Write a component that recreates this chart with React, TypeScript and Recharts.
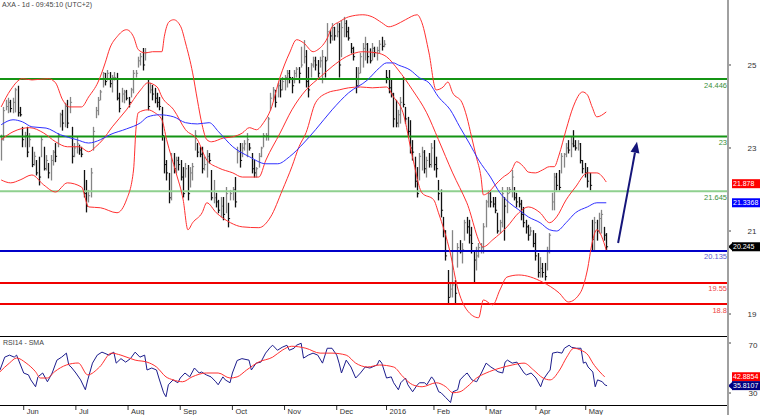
import { Bar, ComposedChart, Line, ReferenceLine, XAxis, YAxis } from 'recharts';

const FONT = '"Liberation Sans", Arial, sans-serif';

// Daily bars: [high, low, close]
const bars: number[][] = [
  [23.32, 22.71, 23.2], [23.99, 23.19, 23.9], [24.16, 23.92, 24.0], [24.21, 23.85, 24.1], [24.16, 23.87, 23.95],
  [24.21, 23.85, 24.1], [24.45, 23.87, 24.4], [24.5, 23.77, 23.85], [23.99, 23.77, 23.8], [23.51, 23.03, 23.2],
  [23.39, 23.03, 23.3], [23.51, 22.79, 22.9], [23.36, 23.03, 23.2], [23.03, 22.55, 22.6], [22.91, 22.59, 22.8],
  [22.71, 22.35, 22.4], [22.79, 22.11, 22.3], [23.27, 22.79, 23.2], [23.03, 22.47, 22.5], [22.83, 22.47, 22.7],
  [22.64, 22.28, 22.4], [22.83, 22.23, 22.7], [22.95, 22.59, 22.9], [23.12, 22.67, 22.8], [23.36, 23.03, 23.3],
  [23.85, 23.51, 23.8], [23.92, 23.43, 23.6], [24.09, 23.51, 24.0], [24.16, 23.49, 23.6], [24.23, 23.85, 24.1],
  [23.51, 22.64, 22.8], [23.12, 22.79, 23.0], [23.27, 22.88, 23.1], [23.08, 22.85, 22.95], [23.03, 22.79, 22.85],
  [22.47, 21.82, 21.9], [22.23, 21.46, 21.6], [21.99, 21.7, 21.85], [22.52, 21.82, 22.4], [23.51, 22.95, 23.4],
  [23.99, 23.73, 23.9], [24.23, 23.8, 24.15], [24.4, 24.16, 24.35], [24.83, 24.47, 24.8], [24.81, 24.52, 24.6],
  [24.88, 24.64, 24.8], [24.83, 24.47, 24.55], [24.76, 24.35, 24.7], [24.83, 24.64, 24.7], [24.81, 24.16, 24.2],
  [24.33, 23.87, 23.95], [24.45, 24.11, 24.3], [24.4, 24.09, 24.35], [24.4, 24.16, 24.2], [24.23, 23.99, 24.1],
  [24.45, 24.23, 24.4], [24.88, 24.33, 24.8], [24.88, 24.71, 24.8], [25.2, 24.95, 25.1], [25.29, 25.0, 25.2],
  [25.41, 24.88, 25.0], [25.41, 25.12, 25.3], [24.64, 23.92, 24.0], [24.57, 24.33, 24.4], [24.52, 24.16, 24.3],
  [24.45, 24.09, 24.2], [24.33, 23.99, 24.1], [24.23, 23.92, 24.0], [23.99, 23.19, 23.3], [23.27, 22.4, 22.6],
  [22.71, 22.23, 22.4], [22.4, 21.68, 21.8], [22.88, 21.75, 22.7], [22.88, 22.4, 22.5], [22.79, 22.4, 22.7],
  [22.79, 22.47, 22.6], [22.71, 22.23, 22.3], [22.54, 21.82, 21.9], [22.64, 22.3, 22.5], [22.59, 21.75, 21.9],
  [22.54, 22.06, 22.4], [22.64, 22.23, 22.55], [23.43, 22.95, 23.3], [23.12, 22.79, 22.9], [23.03, 22.79, 22.85],
  [23.03, 22.4, 22.5], [22.79, 22.47, 22.6], [22.95, 22.3, 22.8], [22.88, 22.64, 22.7], [22.47, 21.75, 21.8],
  [22.23, 21.68, 21.8], [21.92, 21.58, 21.7], [21.75, 21.44, 21.5], [21.82, 21.34, 21.6], [21.82, 21.27, 21.4],
  [22.06, 21.44, 21.9], [21.68, 21.1, 21.3], [21.99, 21.75, 21.9], [22.06, 21.75, 22.0], [22.3, 21.58, 21.7],
  [23.03, 22.64, 22.9], [23.12, 22.54, 22.7], [23.12, 22.79, 23.0], [23.19, 22.95, 23.1], [23.36, 22.79, 23.2],
  [23.12, 22.95, 23.0], [22.88, 22.4, 22.5], [22.71, 22.3, 22.4], [22.54, 22.3, 22.5], [22.88, 22.54, 22.8],
  [23.03, 22.79, 23.0], [23.36, 23.03, 23.3], [23.36, 23.19, 23.3], [23.75, 23.19, 23.7], [24.33, 23.92, 24.2],
  [24.47, 24.16, 24.4], [24.4, 23.99, 24.1], [24.57, 24.23, 24.5], [24.64, 24.23, 24.4], [24.71, 24.4, 24.6],
  [24.76, 24.4, 24.7], [24.88, 24.47, 24.8], [24.88, 24.57, 24.7], [24.71, 24.33, 24.5], [24.88, 24.57, 24.8],
  [24.95, 24.71, 24.9], [24.95, 24.57, 24.8], [25.44, 24.95, 25.0], [25.6, 25.05, 25.2], [25.36, 24.47, 24.6],
  [24.95, 24.23, 24.4], [25.05, 24.71, 25.0], [25.2, 24.95, 25.1], [25.2, 24.88, 25.0], [25.12, 24.71, 24.8],
  [25.2, 24.95, 25.1], [25.36, 24.57, 25.2], [25.2, 24.71, 25.1], [26.01, 25.12, 25.8], [25.84, 25.53, 25.7],
  [26.01, 25.6, 25.9], [25.92, 25.6, 25.7], [26.01, 25.68, 25.8], [26.01, 24.71, 25.0], [26.08, 25.2, 25.9],
  [26.16, 25.68, 26.0], [26.08, 25.68, 25.8], [25.92, 25.6, 25.65], [25.53, 25.29, 25.4], [25.44, 25.12, 25.2],
  [24.95, 24.33, 24.5], [24.95, 24.47, 24.8], [25.29, 24.81, 25.2], [25.53, 24.95, 25.4], [25.68, 25.12, 25.5],
  [25.53, 25.05, 25.2], [25.4, 25.05, 25.1], [25.53, 25.12, 25.4], [25.44, 25.2, 25.3], [25.44, 25.12, 25.35],
  [25.6, 25.29, 25.5], [25.68, 25.36, 25.45], [25.6, 25.44, 25.5], [24.88, 24.57, 24.7], [24.88, 24.33, 24.45],
  [24.64, 24.23, 24.3], [24.33, 23.51, 23.7], [24.16, 23.51, 23.6], [23.92, 23.51, 23.8], [24.23, 23.6, 24.1],
  [24.71, 23.99, 24.05], [23.99, 23.6, 23.7], [23.75, 23.27, 23.4], [23.67, 22.88, 23.0], [23.19, 22.71, 22.9],
  [22.79, 22.06, 22.2], [22.54, 21.82, 21.9], [22.88, 22.23, 22.8], [23.03, 22.47, 22.9], [22.95, 22.4, 22.5],
  [22.79, 22.3, 22.7], [22.88, 22.54, 22.6], [23.12, 22.54, 23.0], [23.19, 22.47, 22.6], [22.79, 22.3, 22.5],
  [22.23, 21.75, 21.9], [22.0, 21.34, 21.5], [21.34, 20.86, 21.0], [21.02, 20.3, 20.4], [20.06, 19.27, 19.4],
  [19.75, 19.41, 19.6], [21.02, 19.41, 19.7], [19.82, 19.27, 19.5], [20.71, 20.13, 20.6], [20.78, 20.47, 20.5],
  [20.71, 20.23, 20.55], [21.27, 20.78, 21.2], [21.34, 20.95, 21.1], [21.27, 20.71, 20.9], [21.1, 20.47, 20.7],
  [20.54, 19.75, 20.3], [20.62, 20.06, 20.4], [20.71, 20.37, 20.6], [20.71, 20.47, 20.6], [21.19, 20.47, 21.1],
  [21.75, 21.1, 21.7], [21.99, 21.58, 21.9], [21.99, 21.58, 21.7], [21.82, 21.58, 21.65], [21.82, 21.44, 21.5],
  [21.44, 20.95, 21.0], [21.27, 20.95, 21.2], [22.06, 21.1, 21.9], [21.82, 20.78, 21.6], [22.06, 21.44, 21.9],
  [22.06, 21.92, 22.0], [22.47, 21.82, 22.3], [22.06, 21.75, 21.8], [21.92, 21.58, 21.7], [21.82, 21.58, 21.65],
  [21.75, 21.27, 21.4], [21.58, 21.1, 21.2], [21.27, 20.95, 21.1], [21.15, 20.78, 20.9], [21.1, 20.9, 21.0],
  [21.02, 20.62, 20.7], [20.95, 20.3, 20.4], [20.47, 19.89, 20.0], [20.37, 19.89, 20.1], [20.23, 19.89, 20.0],
  [20.23, 19.82, 19.9], [20.62, 20.06, 20.5], [20.95, 20.47, 20.9], [21.92, 21.51, 21.7], [22.4, 21.51, 22.3],
  [22.4, 21.99, 22.1], [22.47, 21.99, 22.05], [22.88, 22.4, 22.8], [22.88, 22.54, 22.85], [23.12, 22.79, 23.0],
  [23.19, 22.88, 22.95], [23.27, 22.79, 23.1], [23.43, 23.03, 23.05], [23.19, 22.95, 23.0], [23.19, 22.95, 23.1],
  [23.12, 22.64, 22.7], [22.71, 22.4, 22.5], [22.64, 22.3, 22.4], [22.54, 22.06, 22.2], [22.4, 21.99, 22.1],
  [21.27, 20.52, 20.8], [21.34, 20.54, 21.2], [21.27, 20.78, 21.0], [21.44, 20.95, 21.3], [21.51, 20.95, 21.4],
  [21.1, 20.78, 20.9], [20.95, 20.54, 20.62],
];

// Indicator lines, sampled as [bar index, value]
const upperBand = [
  [0, 23.99], [4, 24.4], [9, 24.67], [13, 24.64], [20, 24.67], [23, 24.57], [26, 24.16], [29, 23.99],
  [34, 23.99], [37, 24.23], [41, 24.59], [44, 25.05], [46, 25.41], [49, 25.68], [53, 25.85], [56, 25.68],
  [58, 25.37], [61, 25.29], [64, 25.32], [68, 25.32], [69, 25.68], [71, 26.04], [73, 26.09], [76, 25.92],
  [78, 25.53], [81, 24.81], [83, 24.16], [85, 23.56], [87, 23.2], [89, 23.15], [94, 23.24], [98, 23.27],
  [102, 23.36], [105, 23.49], [108, 23.44], [111, 23.61], [114, 23.92], [118, 24.71], [122, 25.29], [125, 25.61],
  [128, 25.53], [132, 25.32], [134, 25.37], [138, 25.65], [140, 25.92], [143, 26.04], [147, 26.16], [153, 26.21],
  [157, 26.16], [161, 26.02], [164, 25.92], [167, 25.97], [171, 26.09], [176, 26.21], [178, 26.02], [181, 25.29],
  [184, 24.4], [187, 24.47], [189, 24.59], [191, 24.33], [195, 24.09], [197, 23.75], [199, 23.27], [201, 22.79],
  [203, 22.3], [204, 21.87], [206, 21.92], [209, 22.11], [212, 22.28], [216, 22.47], [218, 22.67], [221, 22.55],
  [223, 22.42], [226, 22.4], [229, 22.47], [232, 22.55], [234, 22.55], [236, 22.83], [239, 23.44], [242, 23.99],
  [246, 24.35], [248, 24.28], [250, 23.99], [252, 23.75], [256, 23.87],
];
const midBand = [
  [0, 23.2], [5, 23.39], [12, 23.49], [18, 23.36], [23, 23.15], [28, 23.03], [33, 23.03], [37, 22.91],
  [40, 23.03], [43, 23.2], [47, 23.51], [53, 23.92], [59, 24.4], [62, 24.57], [66, 24.47], [68, 24.23],
  [73, 23.92], [78, 23.44], [83, 23.2], [87, 22.71], [92, 22.52], [98, 22.4], [102, 22.3], [109, 22.3],
  [112, 22.71], [118, 23.36], [123, 23.92], [129, 24.4], [135, 24.71], [140, 24.96], [146, 25.2], [153, 25.32],
  [159, 25.29], [163, 25.2], [168, 24.88], [174, 24.4], [180, 23.85], [185, 23.2], [191, 22.4], [197, 21.68],
  [204, 20.62], [208, 20.79], [214, 21.1], [219, 21.44], [223, 21.58], [228, 21.44], [232, 21.2], [235, 21.34],
  [239, 21.75], [243, 22.06], [248, 22.4], [252, 22.4], [256, 22.18],
];
const lowerBand = [
  [0, 22.23], [4, 22.16], [8, 22.23], [13, 22.35], [18, 22.11], [23, 21.94], [28, 22.16], [34, 22.06],
  [37, 21.58], [42, 21.56], [49, 21.44], [53, 21.75], [56, 22.47], [57, 23.44], [58, 23.85], [62, 23.92],
  [65, 23.85], [68, 23.68], [70, 23.2], [74, 22.4], [77, 21.75], [79, 21.03], [81, 21.2], [85, 21.44],
  [87, 21.68], [91, 21.44], [97, 21.2], [102, 21.1], [109, 21.08], [114, 21.34], [119, 21.99], [123, 22.55],
  [126, 23.03], [129, 23.37], [133, 24.09], [138, 24.33], [143, 24.4], [147, 24.45], [152, 24.47], [157, 24.45],
  [163, 24.47], [166, 24.23], [170, 23.85], [174, 22.79], [178, 21.92], [183, 21.75], [185, 21.44], [190, 20.47],
  [193, 19.65], [197, 19.1], [202, 18.91], [204, 19.34], [208, 19.22], [211, 19.58], [214, 19.89], [219, 19.94],
  [229, 19.77], [236, 19.51], [240, 19.29], [245, 19.51], [248, 20.06], [250, 20.71], [252, 21.03], [256, 20.54],
];
const blueMa = [
  [0, 23.56], [5, 23.68], [9, 23.63], [13, 23.51], [19, 23.48], [25, 23.32], [32, 23.2], [37, 23.12],
  [42, 23.2], [46, 23.32], [53, 23.46], [59, 23.61], [62, 23.75], [67, 23.8], [73, 23.75], [78, 23.61],
  [83, 23.58], [88, 23.61], [92, 23.39], [98, 23.03], [105, 22.79], [112, 22.62], [117, 22.62], [122, 22.79],
  [128, 23.12], [133, 23.44], [140, 23.92], [147, 24.33], [155, 24.64], [160, 24.93], [163, 25.05], [166, 25.05],
  [168, 25.0], [173, 24.88], [177, 24.69], [181, 24.57], [185, 24.23], [190, 23.92], [194, 23.51], [198, 23.12],
  [202, 22.71], [207, 22.3], [211, 21.92], [215, 21.68], [219, 21.51], [223, 21.34], [228, 21.2], [232, 21.03],
  [235, 21.0], [239, 21.2], [243, 21.44], [248, 21.58], [252, 21.68], [256, 21.68],
];
const rsi = [
  [0, 48.4], [2, 58.7], [4, 60.3], [6, 58.7], [7, 60.3], [9, 50.8], [10, 46], [12, 44.5], [13, 40.5], [15, 35],
  [16, 42.9], [18, 46], [20, 39], [22, 46], [24, 56.3], [26, 58.7], [28, 61.9], [29, 52.4], [30, 50.8], [32, 46],
  [34, 40.5], [36, 32.6], [37, 40.5], [39, 53.9], [41, 60.3], [43, 62.7], [46, 60.3], [48, 62.7], [49, 53.9],
  [51, 57.5], [53, 54.7], [55, 57.5], [57, 62.7], [59, 58.7], [61, 60.3], [62, 48.4], [64, 50], [66, 48.4],
  [67, 42], [69, 30.2], [70, 27], [71, 36.6], [73, 40.5], [75, 38.2], [76, 42], [78, 46], [80, 42.9], [82, 50],
  [84, 46], [85, 46.8], [87, 44.5], [89, 42.9], [91, 39], [92, 36.6], [94, 42.9], [95, 40.5], [97, 38.2],
  [98, 46], [100, 56], [102, 57.5], [105, 56.3], [106, 48.4], [108, 53.9], [110, 54.7], [112, 61.9], [114, 66.6],
  [115, 68.2], [117, 64.2], [119, 66.6], [121, 68.2], [122, 64.2], [124, 65.8], [125, 68.2], [127, 69.8],
  [128, 57.9], [130, 60.3], [132, 61.9], [134, 60.3], [136, 53.9], [138, 65.8], [140, 65.8], [142, 60.3],
  [143, 53.9], [144, 46], [146, 56.3], [148, 50.8], [150, 42], [152, 46], [154, 50.8], [156, 50], [159, 52.4],
  [160, 56.3], [161, 53.9], [163, 42], [165, 42.9], [166, 38.2], [168, 32.6], [169, 38.2], [171, 42], [172, 36.6],
  [174, 31], [176, 36.6], [177, 38.2], [179, 38.2], [180, 36.6], [182, 42.9], [183, 40.5], [185, 31], [186, 30.2],
  [188, 26.3], [190, 22.4], [191, 31], [193, 32.6], [194, 40.5], [196, 44.5], [197, 46], [199, 40.5], [201, 39],
  [203, 46], [205, 53.9], [207, 50.8], [209, 48.4], [210, 47], [212, 46], [213, 54.7], [214, 56.3], [216, 53.9],
  [218, 54.7], [221, 46], [222, 44.5], [224, 46], [226, 42], [228, 35], [229, 40.5], [231, 46], [232, 48.4],
  [233, 61.9], [235, 62.7], [237, 61.9], [238, 65.8], [240, 68.2], [241, 66.6], [243, 65.8], [245, 65.8],
  [246, 53.9], [247, 54.7], [248, 50.8], [250, 46.8], [251, 35], [252, 40.5], [254, 39], [255, 36.6], [256, 35.8],
];
const rsiSma = [
  [0, 47], [4, 54], [7, 58], [11, 54], [15, 47], [17, 42], [20, 42], [23, 47], [28, 52.4], [33, 54], [37, 44.5],
  [42, 50.8], [47, 61.9], [51, 60.3], [57, 56.3], [62, 54.7], [66, 50.8], [70, 42.9], [73, 40.5], [77, 39],
  [81, 42.9], [87, 46], [92, 46], [97, 42], [100, 42.9], [104, 48.4], [109, 54.7], [115, 58.7], [119, 64.2],
  [123, 67.4], [129, 65.8], [135, 61.9], [140, 61.9], [146, 60.3], [150, 53.9], [155, 50.8], [160, 52.4],
  [166, 50.8], [170, 42.9], [174, 36.6], [178, 35], [184, 38.2], [188, 35], [191, 30.2], [194, 31], [197, 35],
  [201, 42], [205, 46], [211, 50], [216, 52.4], [221, 53.9], [225, 48.4], [229, 42], [232, 40.5], [236, 48.4],
  [239, 58.7], [242, 65.8], [245, 64.2], [248, 60.3], [250, 53.9], [253, 46.8], [255, 42.9],
];

const monthTicks = [10, 32, 54, 76, 98, 120, 142, 163, 183, 205, 226, 247];
const monthLabels = ['Jun', 'Jul', 'Aug', 'Sep', 'Oct', 'Nov', 'Dec', '2016', 'Feb', 'Mar', 'Apr', 'May'];

const levels = [
  { value: 24.66, text: '24.446', stroke: '#149414', color: '#3a8f3a' },
  { value: 23.28, text: '23', stroke: '#149414', color: '#3a8f3a' },
  { value: 21.96, text: '21.645', stroke: '#8fd08f', color: '#3a8f3a' },
  { value: 20.52, text: '20.135', stroke: '#0000c8', color: '#5a5ad0' },
  { value: 19.75, text: '19.55', stroke: '#f00000', color: '#ee4444' },
  { value: 19.24, text: '18.8', stroke: '#f00000', color: '#ee4444' },
];

const priceTags = [
  { value: 22.14, text: '21.878', fill: '#ff0000', pointer: false },
  { value: 21.68, text: '21.3368', fill: '#0000ff', pointer: false },
  { value: 20.62, text: '20.245', fill: '#000000', pointer: true },
];
const rsiTags = [
  { value: 43.0, text: '42.8854', fill: '#ff0000', pointer: false },
  { value: 35.9, text: '35.8107', fill: '#000080', pointer: true },
];

// hand-drawn arrow: [bar slot, price]
const arrowFrom = [261, 20.71];
const arrowTo = [269, 23.15];

const SLOTS = 308; // the x axis runs past the last bar

const rows: any[] = Array.from({ length: SLOTS }, (_, i) => ({ i }));
bars.forEach(([h, l, c], i) => {
  Object.assign(rows[i], { hl: [l, h], h, l, c, down: i > 0 && c < bars[i - 1][2] });
});
const put = (key: string, pts: number[][]) => pts.forEach(([i, v]) => { rows[i][key] = v; });
put('upper', upperBand);
put('mid', midBand);
put('lower', lowerBand);
put('ma', blueMa);
put('rsi', rsi);
put('rsiSma', rsiSma);

const HlcBar = (p: any) => {
  const { x, y, width, height, payload } = p;
  if (payload?.h == null) return null;
  const top = Math.min(y, y + height);
  const bot = Math.max(y, y + height);
  const cx = Math.round(x + width / 2) + 0.5;
  const span = payload.h - payload.l || 1;
  const cy = top + ((payload.h - payload.c) / span) * (bot - top);
  const col = payload.down ? '#111' : '#858585';
  return (
    <g>
      <line x1={cx} x2={cx} y1={top} y2={bot + 0.5} stroke={col} strokeWidth={1.3} />
      <line x1={cx} x2={cx + 1.6} y1={cy} y2={cy} stroke={col} strokeWidth={1} />
    </g>
  );
};

const LevelLabel = ({ viewBox, text, color }: any) => (
  <text x={viewBox.x + viewBox.width - 1} y={viewBox.y + 8.5} textAnchor="end" fontSize={7.5} fill={color} fontFamily={FONT}>
    {text}
  </text>
);

const Tag = ({ viewBox, text, fill, pointer }: any) => {
  const x = viewBox.x + viewBox.width;
  const y = viewBox.y;
  return (
    <g>
      {pointer && <polygon points={`${x},${y} ${x + 5},${y - 4.5} ${x + 5},${y + 4.5}`} fill={fill} />}
      <rect x={x + 4} y={y - 4.5} width={28} height={9} fill={fill} />
      <text x={x + 5} y={y + 2.6} fontSize={7} fill="#fff" fontFamily={FONT}>{text}</text>
    </g>
  );
};

const ArrowShape = (p: any) => {
  const { x1, y1, x2, y2 } = p;
  const dx = x2 - x1;
  const dy = y2 - y1;
  const len = Math.sqrt(dx * dx + dy * dy) || 1;
  const ux = dx / len;
  const uy = dy / len;
  const bx = x2 - ux * 11;
  const by = y2 - uy * 11;
  const nx = -uy * 4.5;
  const ny = ux * 4.5;
  return (
    <g>
      <line x1={x1} y1={y1} x2={bx} y2={by} stroke="#15157a" strokeWidth={2} />
      <polygon points={`${x2},${y2} ${bx + nx},${by + ny} ${bx - nx},${by - ny}`} fill="#15157a" />
    </g>
  );
};

const axisTick = (x: number) => (p: any) => (
  <text x={x} y={p.y} dy={3} textAnchor="middle" fontSize={8} fill="#333" fontFamily={FONT}>
    {p.payload.value}
  </text>
);

const MonthTick = (p: any) => {
  const { x, y, payload } = p;
  const label = monthLabels[monthTicks.indexOf(payload.value)];
  return (
    <g>
      <line x1={x} x2={x} y1={y} y2={y + 5} stroke="#333" />
      <text x={x + 3} y={y + 8.5} fontSize={7.5} fill="#333" fontFamily={FONT}>{label}</text>
    </g>
  );
};

const band = { dot: false, activeDot: false, connectNulls: true, isAnimationActive: false } as const;

export default function App() {
  return (
    <div style={{ position: 'absolute', left: 0, top: 0, width: 760, height: 415, background: '#fff', overflow: 'hidden', fontFamily: FONT }}>
      <div style={{ position: 'absolute', left: 2, top: 1, fontSize: 7, color: '#444', whiteSpace: 'nowrap' }}>
        AXA - 1d - 09:45:10 (UTC+2)
      </div>
      <div style={{ position: 'absolute', left: 0, top: 0 }}>
        <ComposedChart width={760} height={336} data={rows} margin={{ top: 0, right: 0, bottom: 0, left: 0 }}>
          <XAxis dataKey="i" hide />
          <YAxis
            orientation="right"
            width={32}
            domain={[18.47, 26.566]}
            allowDataOverflow
            ticks={[19, 21, 23, 25]}
            axisLine={false}
            tickLine={{ stroke: '#444' }}
            tickSize={3}
            tick={axisTick(752)}
          />
          {levels.map(l => (
            <ReferenceLine
              key={l.text}
              y={l.value}
              stroke={l.stroke}
              strokeWidth={2}
              label={<LevelLabel text={l.text} color={l.color} />}
            />
          ))}
          <Bar dataKey="hl" shape={HlcBar} isAnimationActive={false} barSize={2} />
          <Line dataKey="upper" type="monotone" stroke="#ff3030" strokeWidth={1} {...band} />
          <Line dataKey="mid" type="monotone" stroke="#ff3030" strokeWidth={1} {...band} />
          <Line dataKey="lower" type="monotone" stroke="#ff3030" strokeWidth={1} {...band} />
          <Line dataKey="ma" type="monotone" stroke="#3030ff" strokeWidth={1} {...band} />
          <ReferenceLine
            segment={[{ x: arrowFrom[0], y: arrowFrom[1] }, { x: arrowTo[0], y: arrowTo[1] }]}
            shape={ArrowShape}
            ifOverflow="visible"
          />
          {priceTags.map(t => (
            <ReferenceLine key={t.text} y={t.value} stroke="none" label={<Tag text={t.text} fill={t.fill} pointer={t.pointer} />} />
          ))}
        </ComposedChart>
      </div>
      <div style={{ position: 'absolute', left: 0, top: 336 }}>
        <ComposedChart width={760} height={79} data={rows} margin={{ top: 0, right: 0, bottom: 0, left: 0 }}>
          <XAxis
            dataKey="i"
            ticks={monthTicks}
            interval={0}
            height={10}
            axisLine={false}
            tickLine={false}
            tickSize={0}
            tickMargin={0}
            tick={MonthTick}
          />
          <YAxis
            orientation="right"
            width={32}
            domain={[20.4, 75.6]}
            allowDataOverflow
            ticks={[30, 50, 70]}
            axisLine={false}
            tickLine={{ stroke: '#444' }}
            tickSize={3}
            tick={axisTick(753)}
          />
          <Line dataKey="rsi" type="linear" stroke="#1c1c8c" strokeWidth={1} {...band} />
          <Line dataKey="rsiSma" type="monotone" stroke="#ff3030" strokeWidth={1} {...band} />
          {rsiTags.map(t => (
            <ReferenceLine key={t.text} y={t.value} stroke="none" label={<Tag text={t.text} fill={t.fill} pointer={t.pointer} />} />
          ))}
        </ComposedChart>
      </div>
      <div style={{ position: 'absolute', left: 3, top: 339, fontSize: 7, color: '#444', whiteSpace: 'nowrap' }}>RSI14 - SMA</div>
      <div style={{ position: 'absolute', left: 0, top: 336, width: 728, height: 1, background: '#000' }} />
      <div style={{ position: 'absolute', left: 0, top: 405, width: 728, height: 1, background: '#000' }} />
      <div style={{ position: 'absolute', left: 727, top: 0, width: 2, height: 415, background: '#a0a0a0' }} />
    </div>
  );
}
